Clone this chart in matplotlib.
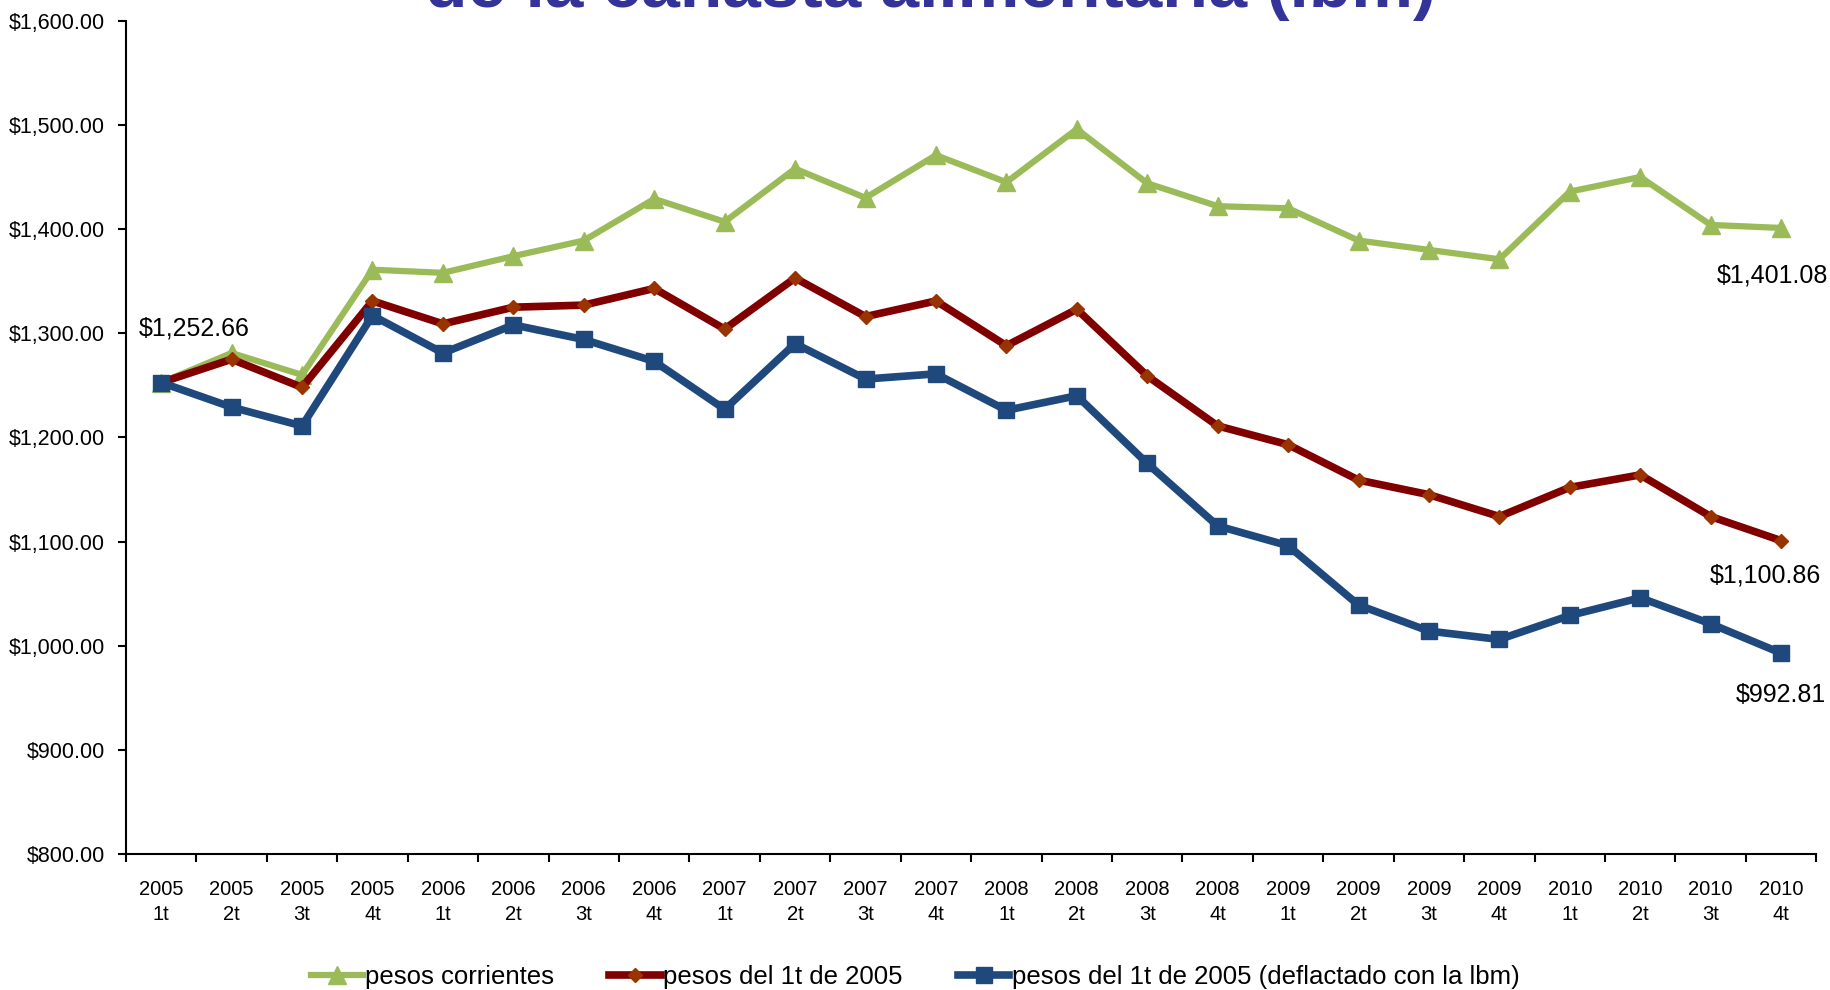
import numpy as np
import matplotlib.pyplot as plt
from matplotlib.ticker import FuncFormatter

plt.rcParams['font.family'] = ['Liberation Sans', 'DejaVu Sans']

quarters = ["2005\n1t", "2005\n2t", "2005\n3t", "2005\n4t",
            "2006\n1t", "2006\n2t", "2006\n3t", "2006\n4t",
            "2007\n1t", "2007\n2t", "2007\n3t", "2007\n4t",
            "2008\n1t", "2008\n2t", "2008\n3t", "2008\n4t",
            "2009\n1t", "2009\n2t", "2009\n3t", "2009\n4t",
            "2010\n1t", "2010\n2t", "2010\n3t", "2010\n4t"]

corrientes = [1252.66, 1281, 1260, 1361, 1358, 1374, 1389, 1429,
              1407, 1458, 1430, 1471, 1445, 1496, 1444, 1422,
              1420, 1389, 1380, 1371, 1436, 1450, 1404, 1401.08]
pesos_2005 = [1252.66, 1275, 1248, 1331, 1309, 1325, 1327, 1343,
              1304, 1353, 1316, 1331, 1288, 1323, 1259, 1211,
              1193, 1159, 1145, 1124, 1152, 1164, 1124, 1100.86]
deflactado = [1252.66, 1229, 1211, 1317, 1281, 1308, 1294, 1273,
              1227, 1290, 1256, 1261, 1226, 1240, 1175, 1115,
              1096, 1039, 1014, 1006, 1029, 1046, 1021, 992.81]

labels = ["pesos corrientes", "pesos del 1t de 2005",
          "pesos del 1t de 2005 (deflactado con la lbm)"]

x = np.arange(len(quarters))

fig = plt.figure(figsize=(18.31, 9.90), dpi=100)
ax = fig.add_axes([0.0688, 0.1374, 0.9232, 0.8416])

ax.plot(x, corrientes, color="#9BBB59", lw=4.5, marker="^", ms=13,
        mfc="#9BBB59", mec="#9BBB59", label=labels[0], zorder=3)
ax.plot(x, pesos_2005, color="#800000", lw=5.5, marker="D", ms=7.5,
        mfc="#993300", mec="#993300", label=labels[1], zorder=4)
ax.plot(x, deflactado, color="#1F497D", lw=5.5, marker="s", ms=11,
        mfc="#1F497D", mec="#1F497D", label=labels[2], zorder=5)

# value labels
ax.annotate("$1,252.66", (x[0], corrientes[0]), xytext=(24, 39),
            textcoords="offset points", ha="center", va="center", fontsize=18)
ax.annotate("$1,401.08", (x[-1], corrientes[-1]), xytext=(-6, -34),
            textcoords="offset points", ha="center", va="center", fontsize=18)
ax.annotate("$1,100.86", (x[-1], pesos_2005[-1]), xytext=(-11, -25),
            textcoords="offset points", ha="center", va="center", fontsize=18)
ax.annotate("$992.81", (x[-1], deflactado[-1]), xytext=(0, -30),
            textcoords="offset points", ha="center", va="center", fontsize=18)

ax.set_xlim(-0.5, len(quarters) - 0.5)
ax.set_ylim(800, 1600)
ax.set_yticks(np.arange(800, 1601, 100))
ax.yaxis.set_major_formatter(FuncFormatter(lambda v, p: f"${v:,.2f}"))
ax.tick_params(axis="y", labelsize=15.5, length=6, width=1.5, pad=9)

ax.set_xticks(x)
ax.set_xticklabels(quarters, fontsize=14.5, linespacing=1.4)
ax.set_xticks(np.arange(-0.5, len(quarters)), minor=True)
ax.tick_params(axis="x", which="major", length=0, pad=19)
ax.tick_params(axis="x", which="minor", length=6, width=1.5)

for s in ["top", "right"]:
    ax.spines[s].set_visible(False)
for s in ["left", "bottom"]:
    ax.spines[s].set_linewidth(1.5)

fig.text(0.508, 0.993, "de la canasta alimentaria (lbm)", ha="center",
         va="baseline", fontsize=50, fontweight="bold", color="#333399")

fig.legend(loc="center", bbox_to_anchor=(0.5, 0.013), ncol=3, frameon=False,
           fontsize=18.5, handlelength=2.0, handletextpad=0.1,
           columnspacing=2.15)

fig.savefig("out.png", dpi=100)
